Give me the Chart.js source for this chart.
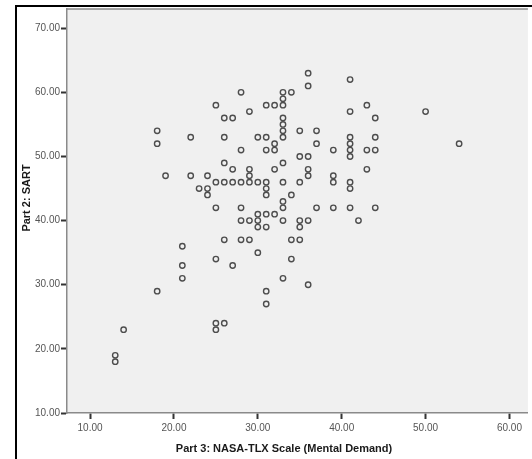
<!DOCTYPE html>
<html>
<head>
<meta charset="utf-8">
<script src="https://cdn.jsdelivr.net/npm/chart.js@4.4.0/dist/chart.umd.min.js"></script>
<style>
  html, body { margin: 0; padding: 0; background: #fff; }
  #wrap { position: relative; width: 532px; height: 459px; overflow: hidden; }
  #frame {
    position: absolute; left: 15px; top: 5px; right: -10px; bottom: -10px;
    border-left: 2px solid #000; border-top: 2px solid #000;
  }
  canvas { position: absolute; left: 0; top: 0; }
</style>
</head>
<body>
<div id="wrap">
  <div id="frame"></div>
  <canvas id="chart" width="532" height="459"></canvas>
</div>
<script>
// Part 3: NASA-TLX (Mental Demand) vs Part 2: SART, one entry per respondent
const mentalDemand = [
  13, 13,
  14,
  18, 18, 18,
  19,
  21, 21, 21,
  22, 22,
  23,
  24, 24, 24,
  25, 25, 25, 25, 25, 25,
  26, 26, 26, 26, 26, 26,
  27, 27, 27, 27,
  28, 28, 28, 28, 28, 28,
  29, 29, 29, 29, 29, 29,
  30, 30, 30, 30, 30, 30,
  31, 31, 31, 31, 31, 31, 31, 31, 31, 31,
  32, 32, 32, 32, 32,
  33, 33, 33, 33, 33, 33, 33, 33, 33, 33, 33, 33, 33,
  34, 34, 34, 34,
  35, 35, 35, 35, 35, 35,
  36, 36, 36, 36, 36, 36, 36,
  37, 37, 37,
  39, 39, 39, 39,
  41, 41, 41, 41, 41, 41, 41, 41, 41,
  42,
  43, 43, 43,
  44, 44, 44, 44,
  50,
  54
];
const sart = [
  19, 18,
  23,
  54, 52, 29,
  47,
  36, 33, 31,
  53, 47,
  45,
  47, 45, 44,
  58, 46, 42, 34, 24, 23,
  56, 53, 49, 46, 37, 24,
  56, 48, 46, 33,
  60, 51, 46, 42, 40, 37,
  57, 48, 47, 46, 40, 37,
  53, 46, 41, 40, 39, 35,
  58, 53, 51, 46, 45, 44, 41, 39, 29, 27,
  58, 52, 51, 48, 41,
  60, 59, 58, 56, 55, 54, 53, 49, 46, 43, 42, 40, 31,
  60, 44, 37, 34,
  54, 50, 46, 40, 39, 37,
  63, 61, 50, 48, 47, 40, 30,
  54, 52, 42,
  51, 47, 46, 42,
  62, 57, 53, 52, 51, 50, 46, 45, 42,
  40,
  58, 51, 48,
  56, 53, 51, 42,
  57,
  52
];
const xTicks = [10, 20, 30, 40, 50, 60];
const yTicks = [10, 20, 30, 40, 50, 60, 70];

const X_TITLE = "Part 3: NASA-TLX Scale (Mental Demand)";
const Y_TITLE = "Part 2: SART";

const tickFont = { family: "'Liberation Sans', Arial, sans-serif", size: 10 };

// plot background + top border line, like the SPSS frame
const plotFrame = {
  id: "plotFrame",
  beforeDraw(chart) {
    const { ctx, chartArea: a } = chart;
    ctx.save();
    ctx.fillStyle = "#f0f0f0";
    ctx.fillRect(a.left, a.top, a.right - a.left, a.bottom - a.top);
    ctx.strokeStyle = "#8a8a8a";
    ctx.lineWidth = 1.5;
    ctx.beginPath();
    ctx.moveTo(a.left, a.top);
    ctx.lineTo(a.right, a.top);
    ctx.stroke();
    ctx.restore();
  },
};

// axis titles (SPSS centres the x title on the whole picture, not the plot)
const axisTitles = {
  id: "axisTitles",
  afterDraw(chart) {
    const { ctx } = chart;
    ctx.save();
    ctx.fillStyle = "#1a1a1a";
    ctx.font = "bold 11px 'Liberation Sans', Arial, sans-serif";
    ctx.textAlign = "center";
    ctx.textBaseline = "middle";
    ctx.fillText(X_TITLE, 284, 449);
    ctx.translate(27, 198);
    ctx.rotate(-Math.PI / 2);
    ctx.fillText(Y_TITLE, 0, 0);
    ctx.restore();
  },
};

new Chart(document.getElementById("chart"), {
  type: "scatter",
  data: {
    datasets: [
      {
        data: mentalDemand.map((x, i) => ({ x, y: sart[i] })),
        backgroundColor: "rgba(0,0,0,0)",
        borderColor: "#4d4d4d",
        borderWidth: 1.4,
        pointRadius: 2.7,
        pointHoverRadius: 2.7,
      },
    ],
  },
  options: {
    responsive: false,
    devicePixelRatio: 1,
    animation: false,
    layout: { padding: { top: 9, right: 0, bottom: 0, left: 0 } },
    plugins: { legend: { display: false }, tooltip: { enabled: false } },
    scales: {
      x: {
        type: "linear",
        min: 7.25,
        max: 62.2,
        afterBuildTicks: (s) => {
          s.ticks = xTicks.map((v) => ({ value: v }));
        },
        afterFit: (s) => {
          s.height = 46;
        },
        border: { display: true, color: "#8a8a8a", width: 1.5 },
        grid: {
          drawOnChartArea: false,
          tickLength: 6,
          tickWidth: 2,
          tickColor: "#333",
        },
        ticks: {
          callback: (v) => v.toFixed(2),
          font: tickFont,
          color: "#555",
          padding: 3,
          maxRotation: 0,
          autoSkip: false,
        },
      },
      y: {
        type: "linear",
        min: 10,
        max: 73,
        afterBuildTicks: (s) => {
          s.ticks = yTicks.map((v) => ({ value: v }));
        },
        afterFit: (s) => {
          s.width = 67;
        },
        border: { display: true, color: "#8a8a8a", width: 1.5 },
        grid: {
          drawOnChartArea: false,
          tickLength: 6,
          tickWidth: 2,
          tickColor: "#333",
        },
        ticks: {
          callback: (v) => v.toFixed(2),
          font: tickFont,
          color: "#555",
          padding: 1,
          autoSkip: false,
        },
      },
    },
  },
  plugins: [plotFrame, axisTitles],
});
</script>
</body>
</html>
